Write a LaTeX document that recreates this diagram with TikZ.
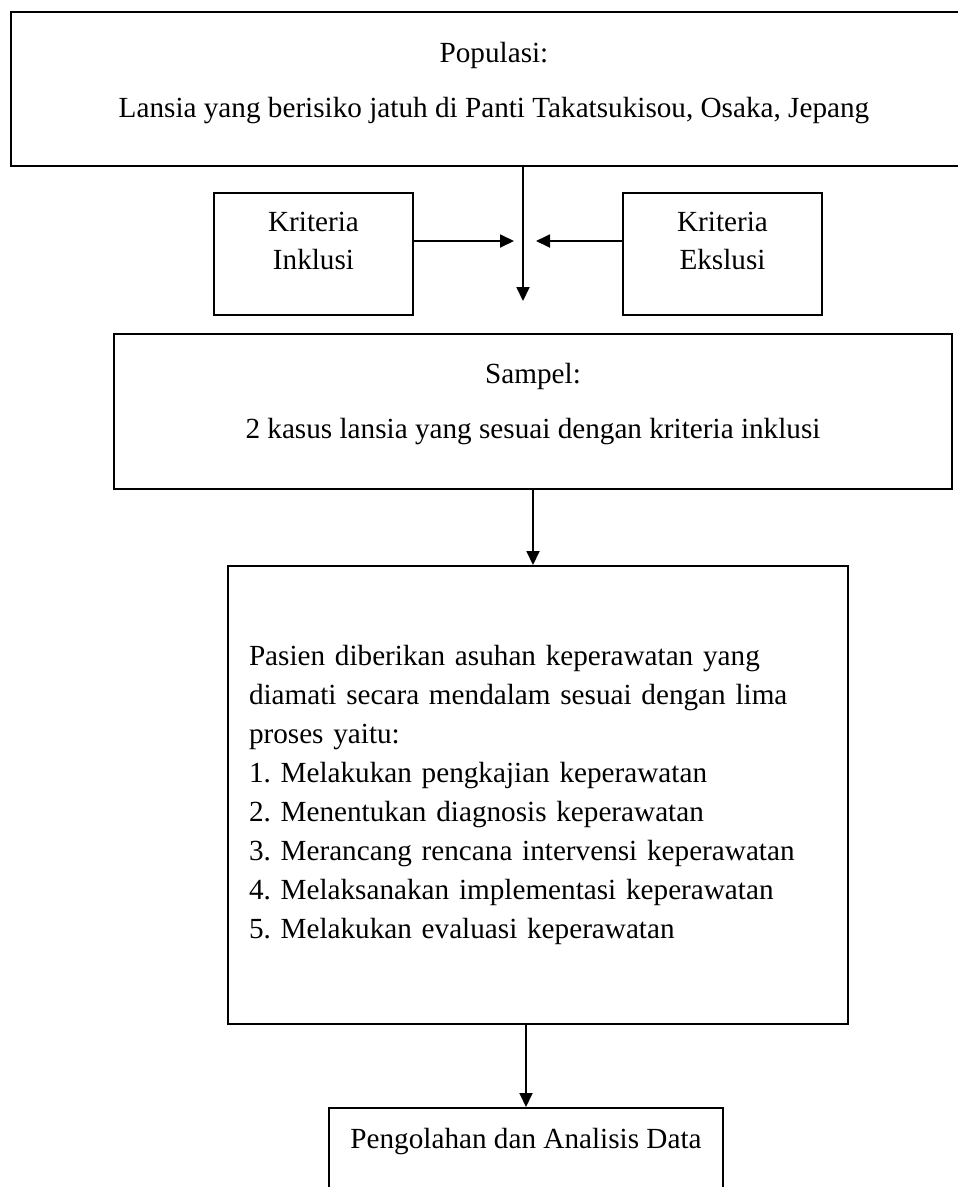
\documentclass[tikz,border=0pt]{standalone}
\usepackage{fontspec}
\setmainfont{Liberation Serif}
\usetikzlibrary{arrows.meta}

\begin{document}
\begin{tikzpicture}[x=1pt, y=-1pt,
		kotak/.style={draw, line width=2pt, inner sep=0pt, align=center,
			font=\fontsize{29.2}{38.5}\selectfont\frenchspacing},
		panah/.style={line width=1.8pt, -{Triangle[length=14pt, width=13pt]}}]
			\useasboundingbox (0, 0) rectangle (958, 1187);
			
			\node[kotak, minimum width=966pt, minimum height=154pt, text depth=19pt] (populasi) at (494, 89)
			{Populasi:\\[16.5pt]Lansia yang berisiko jatuh di Panti Takatsukisou, Osaka, Jepang};
			
			\node[kotak, minimum width=199pt, minimum height=122pt, text depth=26.5pt] (inklusi) at (313.5, 254) {Kriteria\\Inklusi};
			\node[kotak, minimum width=199pt, minimum height=122pt, text depth=26.5pt] (eksklusi) at (722.5, 254) {Kriteria\\Ekslusi};
			
			\node[kotak, minimum width=838pt, minimum height=155pt, text depth=22pt] (sampel) at (533, 411.5)
			{Sampel:\\[16.5pt]2 kasus lansia yang sesuai dengan kriteria inklusi};
			
			\node[kotak, align=left, font=\fontsize{29.2}{38.9}\selectfont\frenchspacing, inner xsep=21pt, text width=578pt,
			minimum width=620pt, minimum height=458pt] (proses) at (538, 795)
			{Pasien diberikan asuhan keperawatan yang\\
				diamati secara mendalam sesuai dengan lima\\
				proses yaitu:\\
				1. Melakukan pengkajian keperawatan\\
				2. Menentukan diagnosis keperawatan\\
				3. Merancang rencana intervensi keperawatan\\
				4. Melaksanakan implementasi keperawatan\\
				5. Melakukan evaluasi keperawatan};
			
			\node[kotak, anchor=north, minimum width=394pt, minimum height=100pt, text depth=40pt] (olah) at (526, 1107)
			{Pengolahan dan Analisis Data};
			
			\coordinate (gabung) at (523, 301);
			\coordinate (ujungkiri) at (514, 241);
			\coordinate (ujungkanan) at (536, 241);
			
			\draw[panah] (populasi.south -| gabung) -- (gabung);
			\draw[panah] (ujungkiri -| inklusi.east) -- (ujungkiri);
			\draw[panah] (ujungkanan -| eksklusi.west) -- (ujungkanan);
			\draw[panah] (sampel.south) -- (sampel.south |- proses.north);
			\draw[panah] (proses.south -| olah.north) -- (olah.north);
			
		\end{tikzpicture}
\end{document}
